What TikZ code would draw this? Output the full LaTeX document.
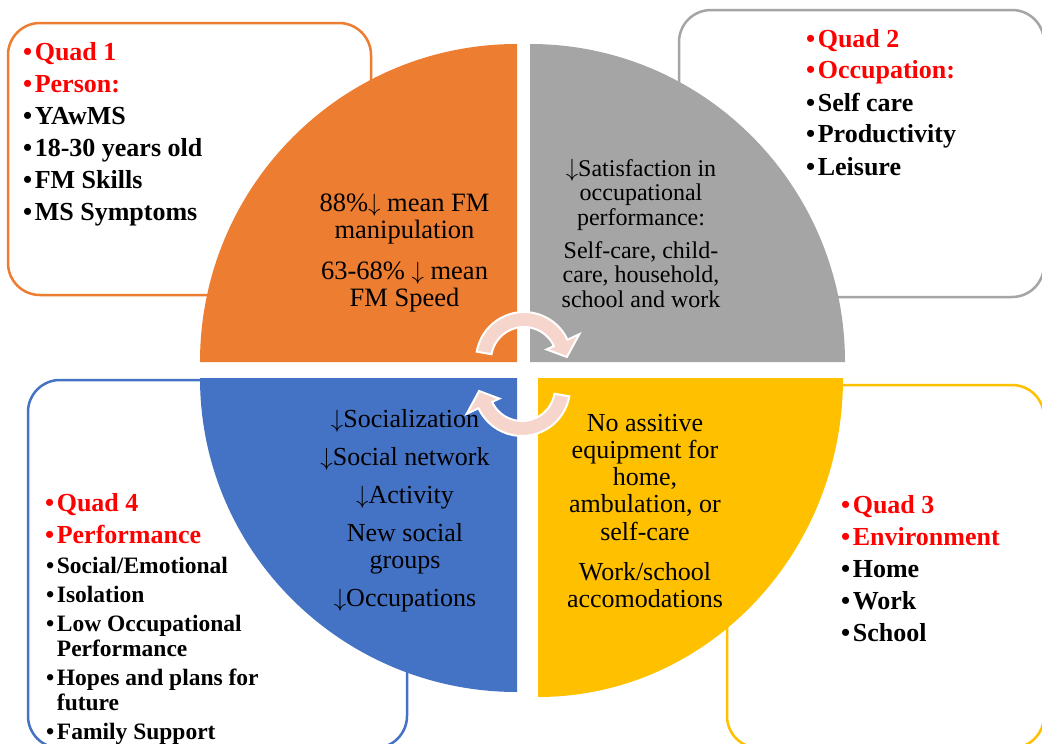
\documentclass[tikz,border=0pt]{standalone}
\usepackage{fontspec}
\setmainfont{Liberation Serif}

\definecolor{qorange}{HTML}{ED7D31}
\definecolor{qgray}{HTML}{A5A5A5}
\definecolor{qblue}{HTML}{4472C4}
\definecolor{qyellow}{HTML}{FFC000}
\definecolor{qred}{HTML}{FF0000}
\definecolor{cyclefill}{RGB}{246,214,204}

\tikzset{
  frame/.style={draw=#1, line width=2.5pt, rounded corners=32pt},
  listbig/.style={anchor=base west, inner sep=0pt, align=left,
    font=\bfseries\fontsize{26}{32}\selectfont},
  listsmall/.style={anchor=base west, inner sep=0pt,
    font=\bfseries\fontsize{23.5}{25}\selectfont},
  pietext/.style={anchor=base, inner sep=0pt},
  cyclearrow/.pic={
    \path[fill=cyclefill, draw=white, line width=2pt]
      (190:48) arc[start angle=190, end angle=335, radius=48]
      -- (335:61) -- (356:43) -- (335:25) -- (335:33)
      arc[start angle=335, end angle=190, radius=33] -- cycle;
  }
}

% list bullet with a small gap before the item text
\newcommand\itembul{•\hspace{2.5pt}}
\newcommand\dn{$\downarrow$}
\newcommand\toplines[1]{\begin{tabular}[t]{@{}l@{}}#1\end{tabular}}
\newcommand\midlines[1]{\begin{tabular}[t]{@{}c@{}}#1\end{tabular}}

\begin{document}
\begin{tikzpicture}[x=1pt, y=-1pt]
  \useasboundingbox (0,0) rectangle (1042,744);
  \fill[white] (0,0) rectangle (1042,744);

  % outline frames behind the pie
  \draw[frame=qorange] (8,23) rectangle (371,295);
  \draw[frame=qgray] (679,10) rectangle (1044,297);
  \draw[frame=qyellow] (727,385) rectangle (1044,748);
  \draw[frame=qblue] (28,380) rectangle (407,748);

  % the four quadrants
  \fill[qorange] (517,362) -- (200,362)
    arc[start angle=180, end angle=270, x radius=317, y radius=318] -- cycle;
  \fill[qgray] (530,362) -- (530,44)
    arc[start angle=270, end angle=360, x radius=315, y radius=318] -- cycle;
  \fill[qyellow] (538,378) -- (843,378)
    arc[start angle=0, end angle=90, x radius=305, y radius=319] -- cycle;
  \fill[qblue] (517,378) -- (517,692)
    arc[start angle=90, end angle=180, x radius=317, y radius=314] -- cycle;

  % cycle arrows at the centre
  \pic at (524,360) {cyclearrow};
  \pic[rotate=180] at (522,388) {cyclearrow};

  % frame lists
  \node[listbig] (person) at (23,60) {\toplines{%
    \textcolor{qred}{\itembul Quad 1}\\
    \textcolor{qred}{\itembul Person:}\\
    \itembul YAwMS\\
    \itembul 18-30 years old\\
    \itembul FM Skills\\
    \itembul MS Symptoms}};
  \node[listbig] (occupation) at (806,47) {\toplines{%
    \textcolor{qred}{\itembul Quad 2}\\
    \textcolor{qred}{\itembul Occupation:}\\
    \itembul Self care\\
    \itembul Productivity\\
    \itembul Leisure}};
  \node[listbig] (environment) at (841,513) {\toplines{%
    \textcolor{qred}{\itembul Quad 3}\\
    \textcolor{qred}{\itembul Environment}\\
    \itembul Home\\
    \itembul Work\\
    \itembul School}};
  \node[listbig] (performance) at (45,511) {\toplines{%
    \textcolor{qred}{\itembul Quad 4}\\
    \textcolor{qred}{\itembul Performance}}};
  \node[listsmall] (perf1) at (46,573) {\itembul Social/Emotional};
  \node[listsmall] (perf2) at (46,602) {\itembul Isolation};
  \node[listsmall] (perf3) at (46,631)
    {\itembul\toplines{Low Occupational\\ Performance}};
  \node[listsmall] (perf4) at (46,685)
    {\itembul\toplines{Hopes and plans for\\ future}};
  \node[listsmall] (perf5) at (46,739) {\itembul Family Support};

  % quadrant contents
  \node[pietext, font=\fontsize{26.5}{27}\selectfont] (fm) at (404.5,211)
    {\midlines{88\%\dn\ mean FM\\ manipulation\\[14pt] 63-68\% \dn\ mean\\ FM Speed}};
  \node[pietext, font=\fontsize{24}{24.3}\selectfont] (satisf) at (641,176.5)
    {\midlines{\dn Satisfaction in\\ occupational\\ performance:\\[9pt]
      Self-care, child-\\ care, household,\\ school and work}};
  \node[pietext, font=\fontsize{26}{27}\selectfont] (social) at (405,427)
    {\midlines{\dn Socialization\\[11pt] \dn Social network\\[11pt] \dn Activity\\[11pt]
      New social\\ groups\\[11pt] \dn Occupations}};
  \node[pietext, font=\fontsize{26}{27.3}\selectfont] (equip) at (645,431)
    {\midlines{No assitive\\ equipment for\\ home,\\ ambulation, or\\ self-care\\[12.5pt]
      Work/school\\ accomodations}};
\end{tikzpicture}
\end{document}
